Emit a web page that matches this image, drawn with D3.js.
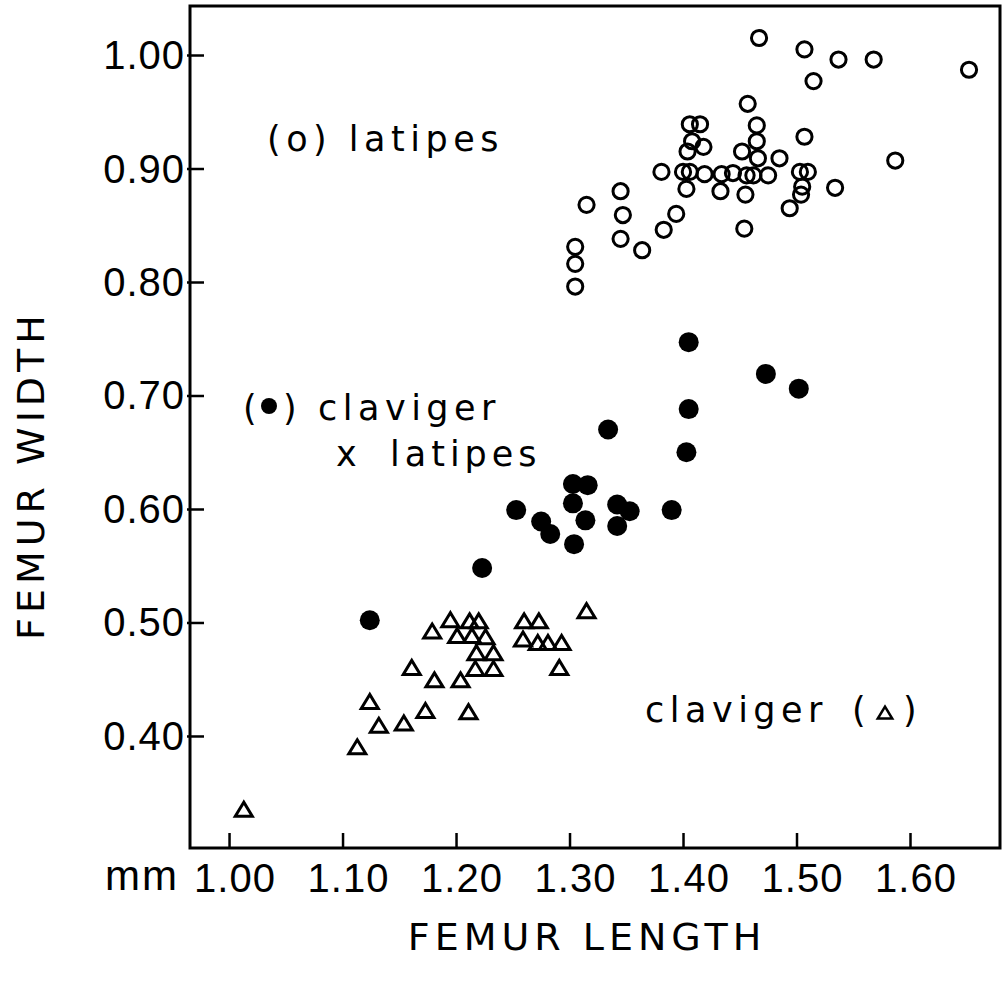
<!DOCTYPE html>
<html><head><meta charset="utf-8">
<script src="https://cdn.jsdelivr.net/npm/d3@7"></script>
<style>body{margin:0;background:#fff}</style>
</head><body>
<svg id="c" width="1005" height="983"></svg>
<script>
// ---- data ----
const xTicks = [1.00, 1.10, 1.20, 1.30, 1.40, 1.50, 1.60];
const yTicks = [0.40, 0.50, 0.60, 0.70, 0.80, 0.90, 1.00];

// latipes (open circles)
const latipesX = [1.467,1.457,1.406,1.415,1.465,1.408,1.418,1.465,1.404,1.452,1.466,1.485,1.381,1.400,1.406,1.419,1.434,1.444,1.456,1.462,1.475,1.403,1.433,1.455,1.345,1.315,1.347,1.394,1.383,1.454,1.345,1.364,1.305,1.305,1.305,1.507,1.537,1.568,1.515,1.652,1.507,1.503,1.510,1.505,1.504,1.494,1.534,1.587];
const latipesY = [1.015,0.957,0.939,0.939,0.938,0.924,0.919,0.924,0.915,0.915,0.909,0.909,0.897,0.897,0.897,0.895,0.895,0.896,0.894,0.894,0.894,0.882,0.880,0.877,0.880,0.868,0.859,0.860,0.846,0.847,0.838,0.828,0.831,0.816,0.796,1.005,0.996,0.996,0.977,0.987,0.928,0.897,0.897,0.884,0.877,0.865,0.883,0.907];

// claviger x latipes (filled circles)
const hybridX = [1.124,1.223,1.253,1.275,1.283,1.303,1.303,1.304,1.316,1.314,1.334,1.342,1.353,1.342,1.390,1.403,1.405,1.405,1.473,1.502];
const hybridY = [0.502,0.548,0.599,0.589,0.578,0.622,0.605,0.569,0.621,0.590,0.670,0.604,0.598,0.585,0.599,0.650,0.688,0.747,0.719,0.706];

// claviger (triangles)
const clavigerX = [1.013,1.113,1.124,1.132,1.154,1.173,1.161,1.179,1.195,1.212,1.220,1.201,1.214,1.226,1.218,1.233,1.217,1.233,1.181,1.204,1.211,1.260,1.273,1.259,1.272,1.281,1.293,1.291,1.315];
const clavigerY = [0.335,0.390,0.430,0.409,0.411,0.422,0.460,0.492,0.502,0.501,0.501,0.488,0.488,0.487,0.473,0.473,0.459,0.459,0.449,0.449,0.421,0.501,0.501,0.485,0.482,0.482,0.482,0.460,0.510];

// ---- layout ----
const L = 190, R = 1000, T = 6, B = 848;
const svg = d3.select("#c");
const x = d3.scaleLinear().domain([0.9656, 1.6793]).range([L, R]);
const y = d3.scaleLinear().domain([0.3013, 1.0423]).range([B, T + 1]);

const numFont = "'Liberation Sans', Arial, sans-serif";
const txtFont = "'DejaVu Sans', sans-serif";

// frame
svg.append("rect").attr("x", L).attr("y", T).attr("width", R - L).attr("height", B - T)
  .attr("fill", "none").attr("stroke", "#000").attr("stroke-width", 3);

// axes (inward ticks)
const xAxis = d3.axisTop(x).tickValues(xTicks).tickSize(15).tickFormat("");
svg.append("g").attr("transform", `translate(0,${B})`).call(xAxis)
  .call(g => g.select(".domain").remove())
  .call(g => g.selectAll("line").attr("stroke", "#000").attr("stroke-width", 2.5));
const yAxis = d3.axisRight(y).tickValues(yTicks).tickSize(17).tickFormat("");
svg.append("g").attr("transform", `translate(${L - 3},0)`).call(yAxis)
  .call(g => g.select(".domain").remove())
  .call(g => g.selectAll("line").attr("stroke", "#000").attr("stroke-width", 2.5));

// tick labels
svg.append("g").selectAll("text").data(xTicks).join("text")
  .attr("x", d => x(d) + 6).attr("y", 892).attr("text-anchor", "middle")
  .attr("font-family", numFont).attr("font-size", 40).attr("letter-spacing", 1)
  .text(d => d3.format(".2f")(d));
svg.append("g").selectAll("text").data(yTicks).join("text")
  .attr("x", 185).attr("y", d => y(d) + 14).attr("text-anchor", "end")
  .attr("font-family", numFont).attr("font-size", 40).attr("letter-spacing", 1)
  .text(d => d3.format(".2f")(d));

svg.append("text").attr("x", 179).attr("y", 890).attr("text-anchor", "end")
  .attr("font-family", numFont).attr("font-size", 42).attr("letter-spacing", 2).text("mm");

// axis titles
svg.append("text").attr("x", 587).attr("y", 950).attr("text-anchor", "middle")
  .attr("font-family", txtFont).attr("font-size", 38).attr("letter-spacing", 5)
  .text("FEMUR LENGTH");
svg.append("text").attr("transform", "translate(44,475) rotate(-90)").attr("text-anchor", "middle")
  .attr("font-family", txtFont).attr("font-size", 38).attr("letter-spacing", 5)
  .text("FEMUR WIDTH");

// points
const tri = (cx, cy, s = 1) => `M${cx},${cy - 7.5 * s}L${cx - 8.5 * s},${cy + 6.5 * s}L${cx + 8.5 * s},${cy + 6.5 * s}Z`;
svg.append("g").selectAll("circle").data(latipesX).join("circle")
  .attr("cx", (d) => x(d)).attr("cy", (d, i) => y(latipesY[i])).attr("r", 7.6)
  .attr("fill", "none").attr("stroke", "#000").attr("stroke-width", 3);
svg.append("g").selectAll("circle").data(hybridX).join("circle")
  .attr("cx", d => x(d)).attr("cy", (d, i) => y(hybridY[i])).attr("r", 10)
  .attr("fill", "#000");
svg.append("g").selectAll("path").data(clavigerX).join("path")
  .attr("d", (d, i) => tri(x(d), y(clavigerY[i])))
  .attr("fill", "none").attr("stroke", "#000").attr("stroke-width", 3).attr("stroke-linejoin", "miter");

// legend labels
const lab = (tx, ty, s, ls = 5) => svg.append("text").attr("x", tx).attr("y", ty)
  .attr("font-family", txtFont).attr("font-size", 35).attr("letter-spacing", ls).text(s);
lab(267, 151, "(o) latipes", 5.5);
lab(243, 420, "(");
svg.append("circle").attr("cx", 269).attr("cy", 406).attr("r", 8).attr("fill", "#000");
lab(283, 420, ")");
lab(318, 420, "claviger", 5.5);
lab(336, 466, "x", 0);
lab(390, 466, "latipes", 5);
lab(645, 722, "claviger", 5.5);
lab(852, 722, "(");
svg.append("path").attr("d", tri(885, 713, 0.85)).attr("fill", "none").attr("stroke", "#000").attr("stroke-width", 2.5);
lab(903, 722, ")");
</script>
</body></html>
